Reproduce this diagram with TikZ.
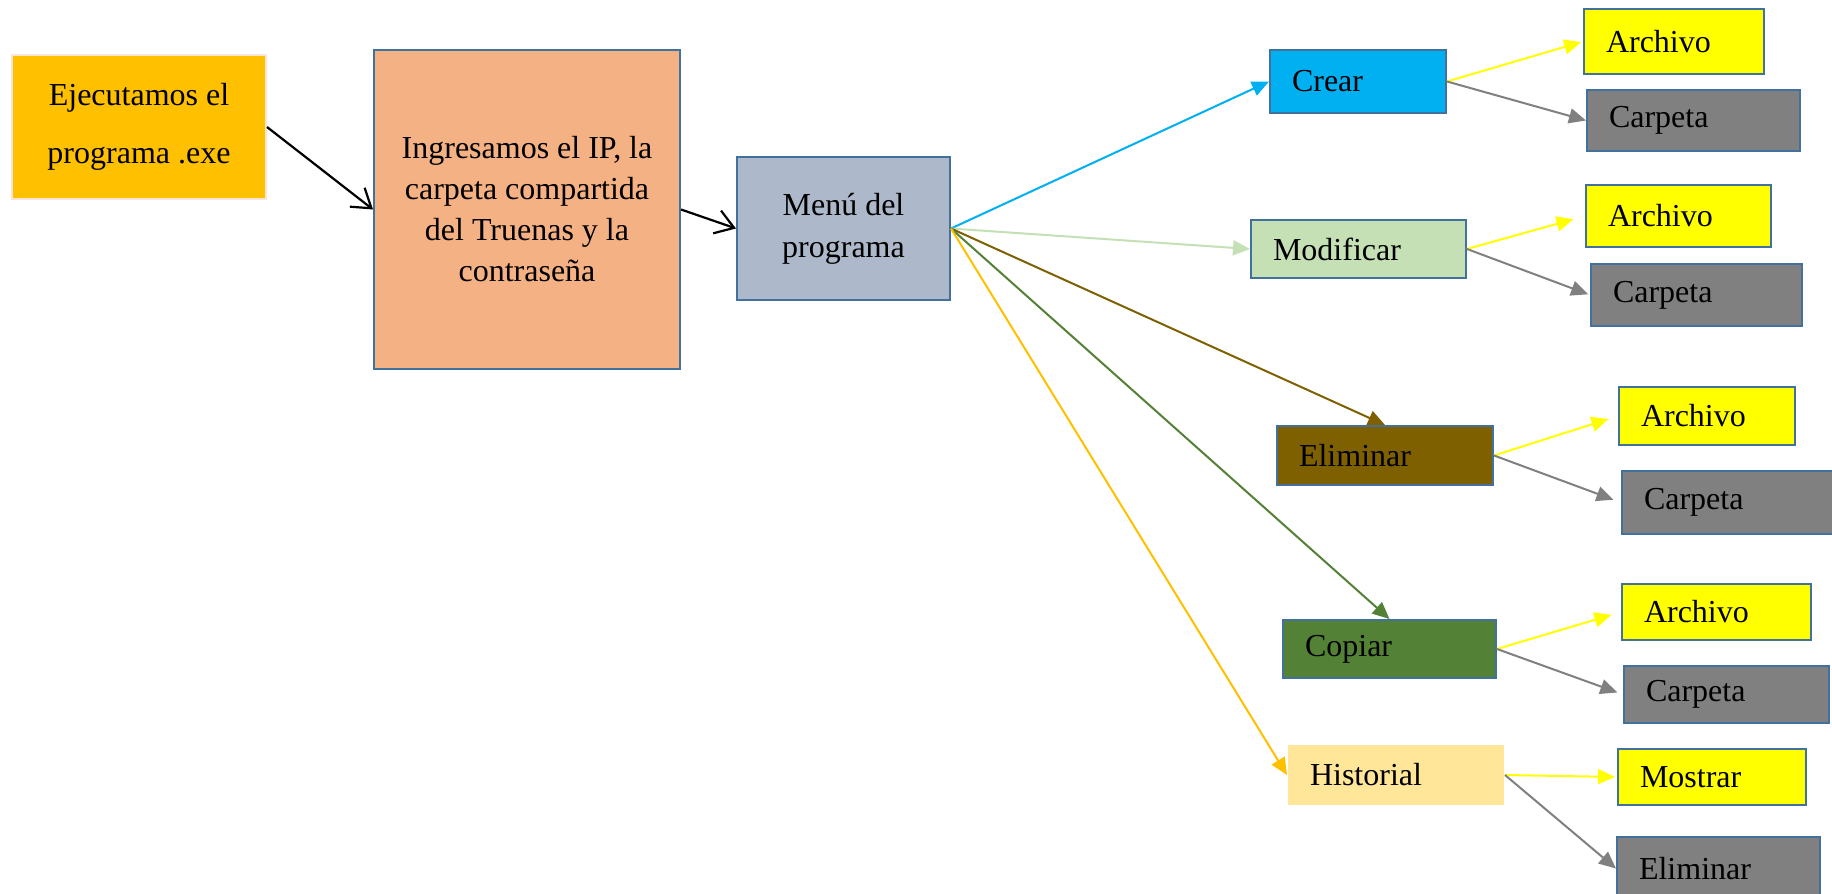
\documentclass[tikz,border=0pt]{standalone}
\usepackage{fontspec}
\setmainfont{Liberation Serif}
\usetikzlibrary{arrows.meta}
\definecolor{bordc}{HTML}{41719C}
\definecolor{bonebord}{HTML}{FBE5D6}
\definecolor{cOrange}{HTML}{FFC000}
\definecolor{cPeach}{HTML}{F4B183}
\definecolor{cSlate}{HTML}{ADB9CA}
\definecolor{cBlue}{HTML}{00B0F0}
\definecolor{cLgreen}{HTML}{C5E0B4}
\definecolor{cBrown}{HTML}{7F6000}
\definecolor{cDgreen}{HTML}{538135}
\definecolor{cCream}{HTML}{FFE699}
\definecolor{cYellow}{HTML}{FFFF00}
\definecolor{cGray}{HTML}{808080}
\newcommand\mkbox[7]{%
  \pgfmathsetmacro\bw{(#4-#2)*0.5}%
  \pgfmathsetmacro\bh{(#5-#3)*0.5}%
  \pgfmathsetmacro\tw{(#4-#2)*0.5-22}%
  \node[#6, minimum width=\bw pt, minimum height=\bh pt] (#1) at ({(#2+#4)/2},{(#3+#5)/2}) {#7};}
\begin{document}
\begin{tikzpicture}[x=0.5pt,y=-0.5pt,
  box/.style={draw=bordc, line width=1pt, inner sep=0pt, font=\fontsize{16}{20.5}\selectfont},
  lbox/.style={box, text width=\tw pt, inner xsep=11pt, align=left},
  cbox/.style={box, align=center},
  blk/.style={draw=black, line width=1.1pt, -{Straight Barb[length=9pt,width=12pt]}},
  col/.style={line width=1pt, -{Triangle[length=8.5pt,width=7.5pt]}}]
\clip (0,0) rectangle (1832,894);
\fill[white] (0,0) rectangle (1832,894);
% main chain
\mkbox{b1}{12}{55}{266}{199}{cbox, draw=bonebord, fill=cOrange, font=\fontsize{16}{29}\selectfont}{Ejecutamos el\\programa .exe}
\mkbox{b2}{374}{50}{680}{369}{cbox, fill=cPeach}{Ingresamos el IP, la\\carpeta compartida\\del Truenas y la\\contraseña}
\mkbox{menu}{737}{157}{950}{300}{cbox, fill=cSlate, font=\fontsize{16}{21}\selectfont}{Menú del\\programa}
% options
\mkbox{crear}{1270}{50}{1446}{113}{lbox, fill=cBlue}{Crear}
\mkbox{mod}{1251}{220}{1466}{278}{lbox, fill=cLgreen}{Modificar}
\mkbox{elim}{1277}{426}{1493}{485}{lbox, fill=cBrown}{Eliminar}
\mkbox{cop}{1283}{620}{1496}{678}{lbox, fill=cDgreen}{Copiar}
\mkbox{hist}{1288}{745}{1504}{805}{lbox, draw=none, fill=cCream}{Historial}
% sub options
\mkbox{a1}{1584}{9}{1764}{74}{lbox, fill=cYellow}{Archivo}
\mkbox{c1}{1587}{90}{1800}{151}{lbox, fill=cGray}{Carpeta}
\mkbox{a2}{1586}{185}{1771}{247}{lbox, fill=cYellow}{Archivo}
\mkbox{c2}{1591}{264}{1802}{326}{lbox, fill=cGray}{Carpeta}
\mkbox{a3}{1619}{387}{1795}{445}{lbox, fill=cYellow}{Archivo}
\mkbox{c3}{1622}{471}{1836}{534}{lbox, fill=cGray}{Carpeta}
\mkbox{a4}{1622}{584}{1811}{640}{lbox, fill=cYellow}{Archivo}
\mkbox{c4}{1624}{666}{1829}{723}{lbox, fill=cGray}{Carpeta}
\mkbox{most}{1618}{749}{1806}{805}{lbox, fill=cYellow}{Mostrar}
\mkbox{e2}{1617}{837}{1820}{900}{lbox, fill=cGray}{Eliminar}
% connectors
\draw[blk] (b1.east) -- (b2.west);
\draw[blk] (b2.east) -- (menu.west);
\draw[col, draw=cBlue, fill=cBlue] (menu.east) -- (crear.west);
\draw[col, draw=cLgreen, fill=cLgreen] (menu.east) -- (mod.west);
\draw[col, draw=cBrown, fill=cBrown] (menu.east) -- (elim.north);
\draw[col, draw=cDgreen, fill=cDgreen] (menu.east) -- (cop.north);
\draw[col, draw=cOrange, fill=cOrange] (menu.east) -- (hist.west);
\foreach \p/\a/\c/\sa/\sc in {crear/a1/c1/1/0, mod/a2/c2/6/1, elim/a3/c3/5/4, cop/a4/c4/5/3, hist/most/e2/1/0}{
  \draw[col, draw=cYellow, fill=cYellow, shorten >=\sa pt] (\p.east) -- (\a.west);
  \draw[col, draw=cGray, fill=cGray, shorten >=\sc pt] (\p.east) -- (\c.west);
}
\end{tikzpicture}
\end{document}
